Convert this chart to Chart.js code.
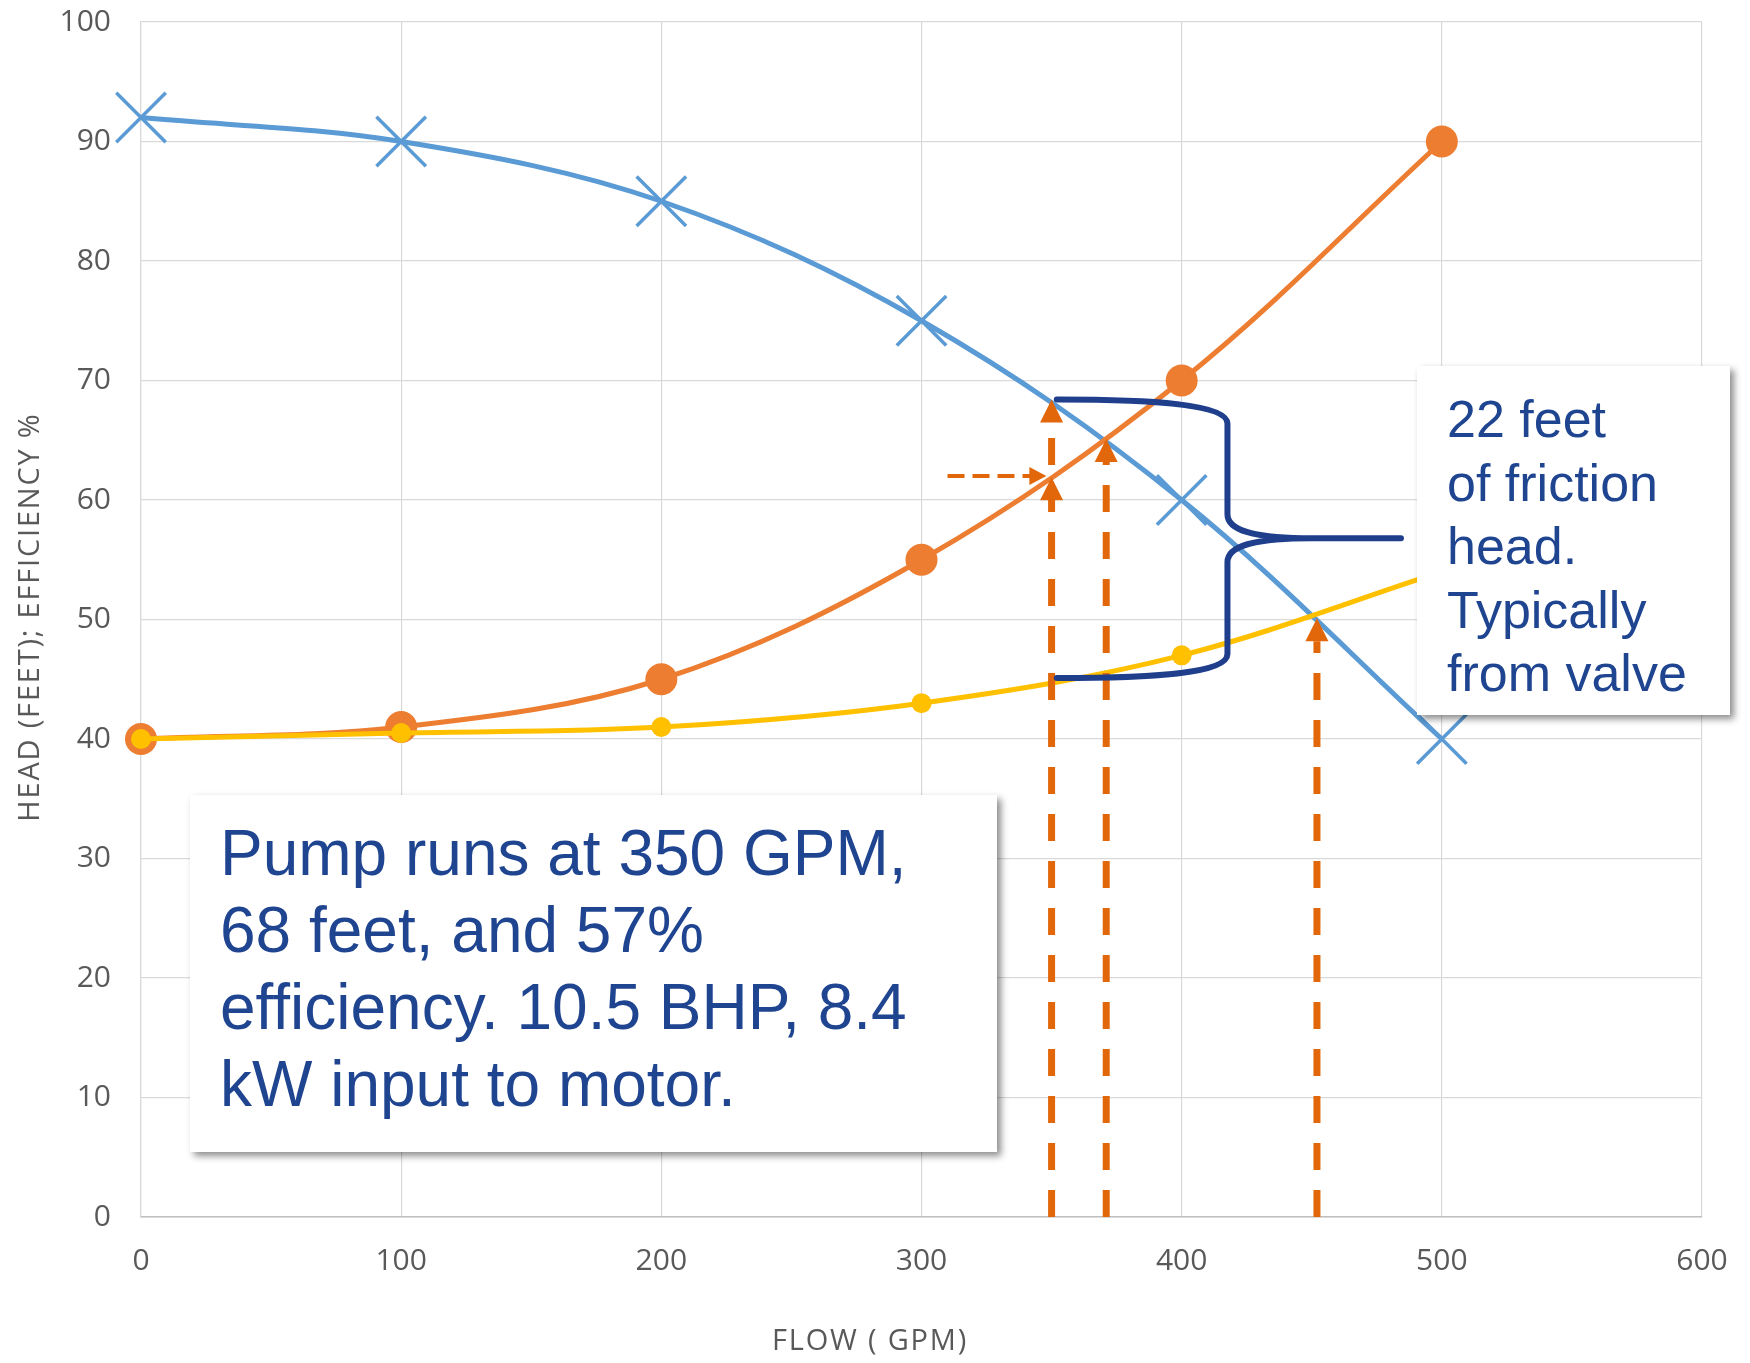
<!DOCTYPE html>
<html><head><meta charset="utf-8">
<script src="https://cdn.jsdelivr.net/npm/chart.js@4/dist/chart.umd.min.js"></script>
<style>html,body{margin:0;padding:0;background:#fff;} canvas{display:block;}</style>
</head><body>
<canvas id="c" width="1750" height="1363"></canvas>
<script>
// ---- data ----
const flowGpm = [0, 100, 200, 300, 400, 500];
const pumpHead = [92, 90, 85, 75, 60, 40];
const systemHead = [40, 41, 45, 55, 70, 90];
const lowerCurve = [40, 40.5, 41, 43, 47, 54];
const xTickValues = [0, 100, 200, 300, 400, 500, 600];
const yTickValues = [0, 10, 20, 30, 40, 50, 60, 70, 80, 90, 100];
const xTitle = 'FLOW ( GPM)';
const yTitle = 'HEAD (FEET); EFFICIENCY %';
const noteOperating = ['Pump runs at 350 GPM,', '68 feet, and 57%', 'efficiency. 10.5 BHP, 8.4', 'kW input to motor.'];
const noteFriction = ['22 feet', 'of friction', 'head.', 'Typically', 'from valve'];
// annotation geometry in data units
const upArrowX = [350, 371, 452];
const upArrowTipY = [68.4, 65.1, 50.1];
const extraHeadAt = [350, 61.9];
const rightArrowFromX = 310, rightArrowToX = 348, rightArrowY = 62;
const braceX = [352, 417.6, 484.3];      // left end, spine, tip
const braceY = [68.4, 56.8, 45.1];       // top, middle, bottom

const pts = ys => flowGpm.map((x, i) => ({x, y: ys[i]}));

const BLUE = '#5B9BD5', ORANGE = '#ED7D31', YELLOW = '#FFC000';
const ARROW = '#E2670A', NAVY = '#1F3F8C', TEXT = '#1F4591', GREY = '#595959';

const overlay = {
  id: 'overlay',
  afterDatasetsDraw(chart) {
    const ctx = chart.ctx, xs = chart.scales.x, ys = chart.scales.y;
    const X = v => xs.getPixelForValue(v), Y = v => ys.getPixelForValue(v);
    const bottom = Y(0);
    ctx.save();
    ctx.strokeStyle = ARROW; ctx.fillStyle = ARROW;
    const headW = 23, headH = 23;
    function upHead(px, py) {
      ctx.beginPath(); ctx.moveTo(px, py); ctx.lineTo(px - headW / 2, py + headH);
      ctx.lineTo(px + headW / 2, py + headH); ctx.closePath(); ctx.fill();
    }
    upArrowX.forEach((xv, i) => {
      const px = X(xv), tip = Y(upArrowTipY[i]);
      ctx.setLineDash([27, 20]); ctx.lineWidth = 7; ctx.lineCap = 'butt';
      ctx.beginPath(); ctx.moveTo(px, bottom); ctx.lineTo(px, tip + headH); ctx.stroke();
      ctx.setLineDash([]);
      upHead(px, tip);
    });
    upHead(X(extraHeadAt[0]), Y(extraHeadAt[1]));
    // horizontal dashed arrow
    const hy = Y(rightArrowY), hx0 = X(rightArrowFromX), hx1 = X(rightArrowToX);
    ctx.setLineDash([17, 8]); ctx.lineWidth = 4;
    ctx.beginPath(); ctx.moveTo(hx0, hy); ctx.lineTo(hx1 - 15, hy); ctx.stroke();
    ctx.setLineDash([]);
    ctx.beginPath(); ctx.moveTo(hx1, hy); ctx.lineTo(hx1 - 17, hy - 9); ctx.lineTo(hx1 - 17, hy + 9); ctx.closePath(); ctx.fill();

    // brace
    const L = X(braceX[0]), V = X(braceX[1]), T = X(braceX[2]);
    const yt = Y(braceY[0]), ym = Y(braceY[1]), yb = Y(braceY[2]);
    ctx.strokeStyle = NAVY; ctx.lineWidth = 6; ctx.lineCap = 'round'; ctx.lineJoin = 'round';
    ctx.beginPath();
    ctx.moveTo(L, yt);
    ctx.bezierCurveTo(L + (V - L) * 0.55, yt, V, yt + 4, V, yt + 24);
    ctx.lineTo(V, ym - 24);
    ctx.bezierCurveTo(V, ym - 8, V + 25, ym, V + 85, ym);
    ctx.lineTo(T, ym);
    ctx.moveTo(V + 85, ym);
    ctx.bezierCurveTo(V + 25, ym, V, ym + 8, V, ym + 24);
    ctx.lineTo(V, yb - 24);
    ctx.bezierCurveTo(V, yb - 4, L + (V - L) * 0.55, yb, L, yb);
    ctx.stroke();

    // text boxes
    function box(x, y, w, h) {
      ctx.save();
      ctx.shadowColor = 'rgba(0,0,0,0.45)'; ctx.shadowBlur = 7; ctx.shadowOffsetX = 4; ctx.shadowOffsetY = 4;
      ctx.fillStyle = '#fff'; ctx.fillRect(x, y, w, h);
      ctx.restore();
    }
    box(1417, 366, 313, 349);
    ctx.fillStyle = TEXT; ctx.textAlign = 'left'; ctx.textBaseline = 'alphabetic';
    ctx.font = '52px "Liberation Sans", Arial, sans-serif';
    noteFriction.forEach((t, i) => ctx.fillText(t, 1447, 437 + i * 63.6));
    box(190, 795, 807, 357);
    ctx.fillStyle = TEXT;
    ctx.font = '64px "Liberation Sans", Arial, sans-serif';
    noteOperating.forEach((t, i) => ctx.fillText(t, 220, 875 + i * 77));

    // axis titles
    ctx.fillStyle = GREY; ctx.font = '29px "Open Sans", sans-serif';
    ctx.textAlign = 'center'; ctx.textBaseline = 'middle';
    try { ctx.letterSpacing = '1.8px'; } catch (e) {}
    ctx.fillText(xTitle, 870, 1342);
    ctx.translate(31, 617); ctx.rotate(-Math.PI / 2);
    ctx.fillText(yTitle, 0, 0);
    ctx.restore();
  }
};

new Chart(document.getElementById('c'), {
  type: 'line',
  data: {
    datasets: [
      { label: 'Lower curve', data: pts(lowerCurve), borderColor: YELLOW, backgroundColor: YELLOW,
        borderWidth: 5, pointRadius: 10, pointBorderWidth: 0, pointBackgroundColor: YELLOW,
        tension: 0.35, clip: false, order: 1 },
      { label: 'System head', data: pts(systemHead), borderColor: ORANGE, backgroundColor: ORANGE,
        borderWidth: 5, pointRadius: 16, pointBorderWidth: 0, pointBackgroundColor: ORANGE,
        tension: 0.35, clip: false, order: 2 },
      { label: 'Pump head', data: pts(pumpHead), borderColor: BLUE, backgroundColor: BLUE,
        borderWidth: 5, pointStyle: 'crossRot', pointRadius: 35, pointBorderWidth: 3.5, pointBorderColor: BLUE,
        tension: 0.35, clip: false, order: 3 }
    ]
  },
  options: {
    responsive: false, animation: false, devicePixelRatio: 1,
    layout: { autoPadding: false, padding: { top: 22, right: 48, left: 0, bottom: 0 } },
    plugins: { legend: { display: false }, tooltip: { enabled: false } },
    events: [],
    scales: {
      x: {
        type: 'linear', min: 0, max: 600,
        afterBuildTicks: s => { s.ticks = xTickValues.map(v => ({value: v})); },
        afterFit: s => { s.height = 146; s.paddingLeft = 0; s.paddingRight = 0; },
        ticks: { color: GREY, font: { family: '"Open Sans", sans-serif', size: 30 }, padding: 26, maxRotation: 0 },
        grid: { color: '#d9d9d9', lineWidth: 1.2, drawTicks: false },
        border: { color: '#bfbfbf', width: 1.5 }
      },
      y: {
        type: 'linear', min: 0, max: 100,
        afterBuildTicks: s => { s.ticks = yTickValues.map(v => ({value: v})); },
        afterFit: s => { s.width = 141; s.paddingTop = 0; s.paddingBottom = 0; },
        ticks: { color: GREY, font: { family: '"Open Sans", sans-serif', size: 30 }, padding: 30 },
        grid: { color: '#d9d9d9', lineWidth: 1.2, drawTicks: false },
        border: { color: '#d9d9d9', width: 1.2 }
      }
    }
  },
  plugins: [overlay]
});
</script>
</body></html>
